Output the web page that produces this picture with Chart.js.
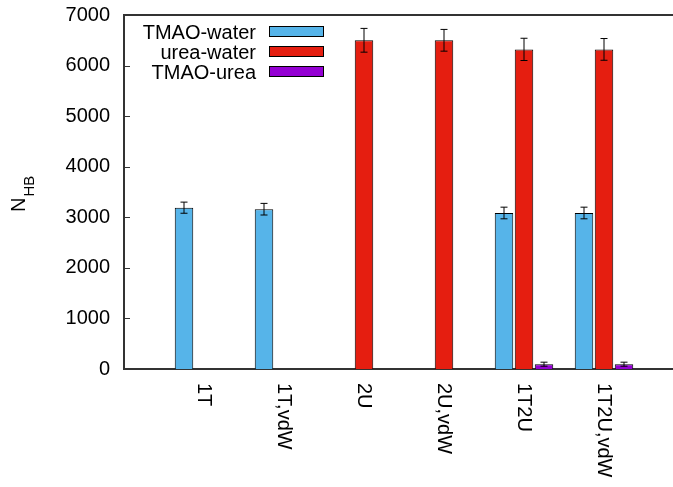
<!DOCTYPE html>
<html>
<head>
<meta charset="utf-8">
<script src="https://cdn.jsdelivr.net/npm/chart.js@4.4.0/dist/chart.umd.min.js"></script>
<style>
  html, body { margin: 0; padding: 0; background: #fff; overflow: hidden; }
</style>
</head>
<body>
<canvas id="chart" width="673" height="487"></canvas>
<script>
// systems along the x axis
const categories = ['1T', '1T,vdW', '2U', '2U,vdW', '1T2U', '1T2U,vdW'];

// hydrogen bond counts and their errors, one array per pair type
const tmaoWater = [3190, 3160, 0, 0, 3085, 3085];
const tmaoWaterErr = [110, 115, 0, 0, 115, 115];
const ureaWater = [0, 0, 6500, 6500, 6320, 6320];
const ureaWaterErr = [0, 0, 235, 215, 220, 215];
const tmaoUrea = [0, 0, 0, 0, 95, 95];
const tmaoUreaErr = [0, 0, 0, 0, 40, 40];

const yTicks = [0, 1000, 2000, 3000, 4000, 5000, 6000, 7000];

const FONT = '"Liberation Sans", Arial, sans-serif';
const AXIS = '#333';

const toPoints = (vals) => vals.map((v, i) => ({ x: i, y: v }));

// error bars drawn through the y scale
const errorBars = {
  id: 'errorBars',
  afterDatasetsDraw(chart) {
    const ctx = chart.ctx;
    const y = chart.scales.y;
    chart.data.datasets.forEach((ds, di) => {
      const meta = chart.getDatasetMeta(di);
      meta.data.forEach((bar, i) => {
        const err = ds.errors[i];
        if (!err) return;
        const v = ds.data[i].y;
        const top = y.getPixelForValue(v + err);
        const bot = y.getPixelForValue(v - err);
        ctx.save();
        ctx.strokeStyle = '#000';
        ctx.lineWidth = 1;
        ctx.beginPath();
        ctx.moveTo(bar.x, top); ctx.lineTo(bar.x, bot);
        ctx.moveTo(bar.x - 3.5, top); ctx.lineTo(bar.x + 3.5, top);
        ctx.moveTo(bar.x - 3.5, bot); ctx.lineTo(bar.x + 3.5, bot);
        ctx.stroke();
        ctx.restore();
      });
    });
  }
};

// frame, inward ticks, rotated category labels, axis title, legend
const decorations = {
  id: 'decorations',
  afterDraw(chart) {
    const { ctx, chartArea: area, scales: { x, y } } = chart;
    ctx.save();
    ctx.strokeStyle = AXIS;
    ctx.lineWidth = 2;
    ctx.beginPath();
    ctx.moveTo(area.left, area.top); ctx.lineTo(area.right, area.top);
    ctx.stroke();
    ctx.lineWidth = 1;
    ctx.beginPath();
    yTicks.forEach(v => {
      const py = Math.round(y.getPixelForValue(v)) + 0.5;
      ctx.moveTo(area.left, py); ctx.lineTo(area.left + 6, py);
    });
    ctx.stroke();

    ctx.fillStyle = '#000';
    ctx.font = '20px ' + FONT;
    categories.forEach((c, i) => {
      ctx.save();
      ctx.translate(x.getPixelForValue(i), area.bottom + 14);
      ctx.rotate(Math.PI / 2);
      ctx.textAlign = 'left';
      ctx.textBaseline = 'middle';
      ctx.fillText(c, 0, 0);
      ctx.restore();
    });

    // N_HB
    ctx.save();
    ctx.translate(25, 212);
    ctx.rotate(-Math.PI / 2);
    ctx.textAlign = 'left';
    ctx.textBaseline = 'alphabetic';
    ctx.font = '20px ' + FONT;
    ctx.fillText('N', 0, 0);
    const nw = ctx.measureText('N').width;
    ctx.font = '15px ' + FONT;
    ctx.fillText('HB', nw + 1, 9);
    ctx.restore();

    // legend: text right aligned, swatch to the right
    ctx.font = '20px ' + FONT;
    ctx.textAlign = 'right';
    ctx.textBaseline = 'middle';
    chart.data.datasets.forEach((ds, i) => {
      const cy = 32 + 20 * i;
      ctx.fillStyle = '#000';
      ctx.fillText(ds.label, 256, cy + 1);
      ctx.fillStyle = ds.backgroundColor;
      ctx.fillRect(269.5, cy - 5.5, 54, 10);
      ctx.strokeStyle = '#000';
      ctx.lineWidth = 1;
      ctx.strokeRect(269.5, cy - 5.5, 54, 10);
    });
    ctx.restore();
  }
};

new Chart(document.getElementById('chart'), {
  type: 'bar',
  data: {
    datasets: [
      { label: 'TMAO-water', data: toPoints(tmaoWater), errors: tmaoWaterErr, backgroundColor: '#56b4e9' },
      { label: 'urea-water', data: toPoints(ureaWater), errors: ureaWaterErr, backgroundColor: '#e51e10' },
      { label: 'TMAO-urea', data: toPoints(tmaoUrea), errors: tmaoUreaErr, backgroundColor: '#9400d3' }
    ]
  },
  options: {
    responsive: false,
    animation: false,
    devicePixelRatio: 1,
    layout: { padding: { top: 15, left: 0, right: 0, bottom: 0 } },
    datasets: {
      bar: {
        borderColor: '#000',
        borderWidth: 1,
        categoryPercentage: 0.75,
        barPercentage: 0.925
      }
    },
    plugins: { legend: { display: false }, tooltip: { enabled: false } },
    scales: {
      x: {
        type: 'linear',
        offset: false,
        min: -1,
        max: -1 + 549 / 80,
        afterBuildTicks: s => { s.ticks = s.ticks.filter(t => Number.isInteger(t.value)); },
        afterFit: s => { s.height = 118; s.paddingLeft = 0; s.paddingRight = 0; },
        ticks: { display: false, stepSize: 1 },
        grid: { display: false, offset: false },
        border: { display: true, color: AXIS, width: 2 }
      },
      y: {
        min: 0,
        max: 7000,
        afterBuildTicks: s => { s.ticks = yTicks.map(v => ({ value: v })); },
        afterFit: s => { s.width = 124; s.paddingTop = 0; s.paddingBottom = 0; },
        ticks: { color: '#000', padding: 14, font: { family: FONT, size: 20 }, callback: v => String(v) },
        grid: { display: false, drawTicks: false },
        border: { display: true, color: AXIS, width: 2 }
      }
    }
  },
  plugins: [errorBars, decorations]
});
</script>
</body>
</html>
